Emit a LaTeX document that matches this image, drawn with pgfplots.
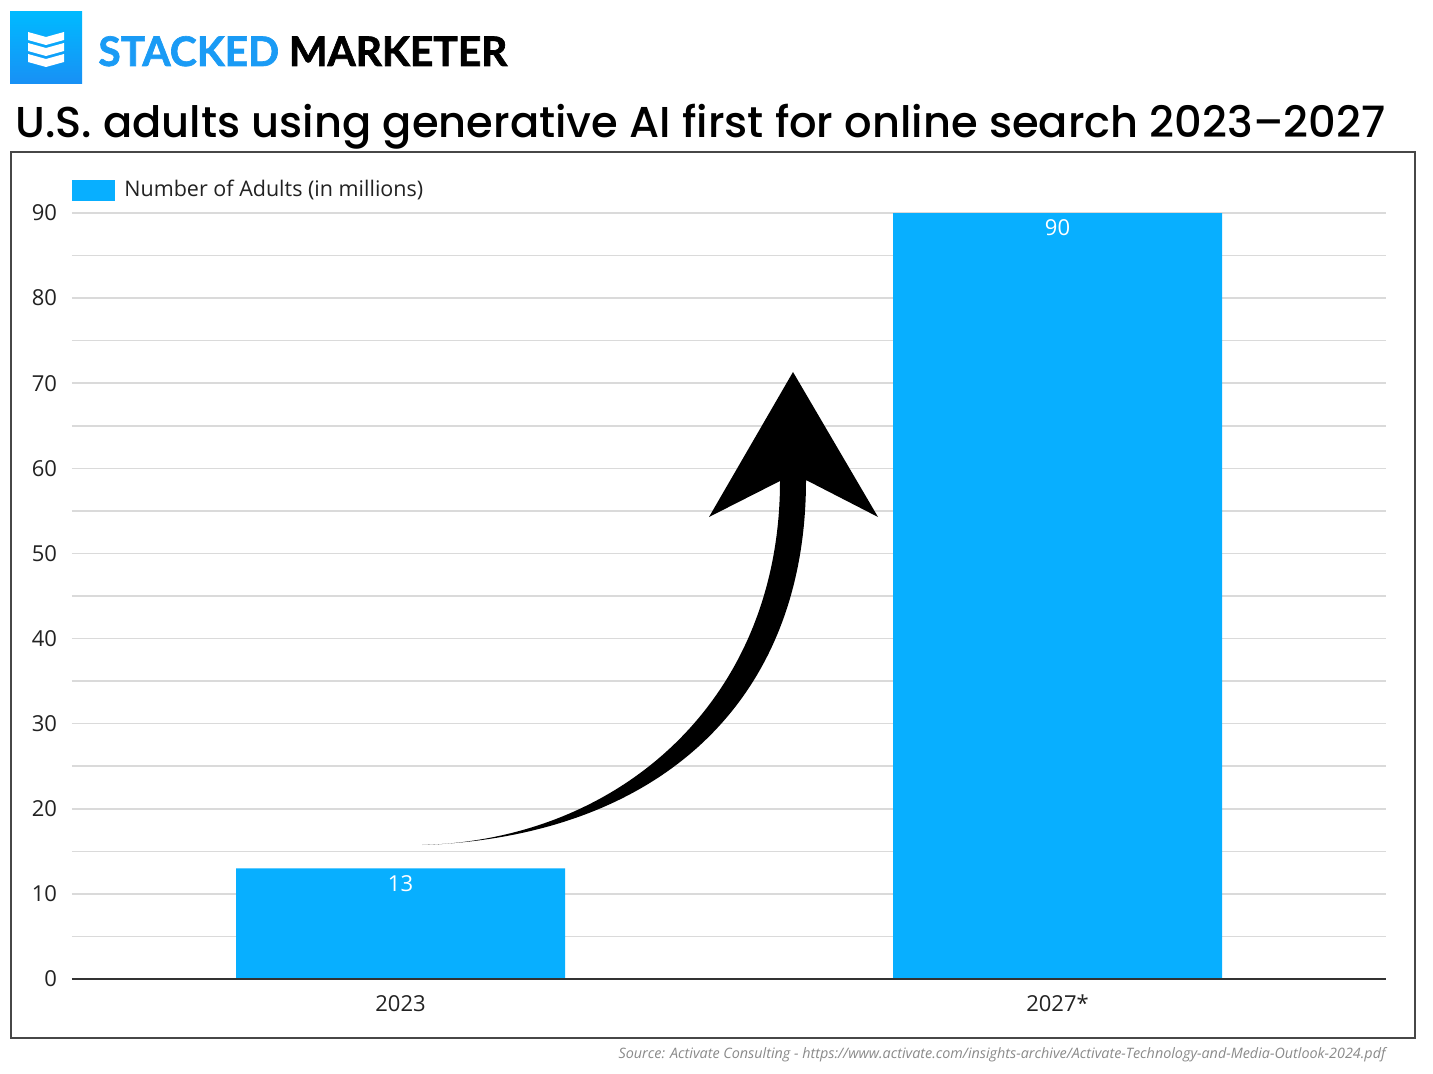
\documentclass[border=0pt]{standalone}
\usepackage{fontspec}
\setmainfont{Open Sans}
\newfontfamily\titlefont{Poppins}[UprightFont={* Medium}]
\newfontfamily\logofont{Lato}[BoldFeatures={FakeBold=1.6}]
\usepackage{pgfplots}
\pgfplotsset{compat=1.18}
\definecolor{barblue}{HTML}{08AFFF}
\definecolor{gridgray}{HTML}{DADADA}
\definecolor{txt}{HTML}{222222}
\definecolor{srcgray}{HTML}{8A8A8A}
\definecolor{logoblue}{HTML}{1A9BF5}
\begin{document}
\begin{tikzpicture}
\begin{scope}[x=0.5pt,y=-0.5pt]
  \path[use as bounding box] (0,0) rectangle (1433,1074);
  \fill[white] (0,0) rectangle (1433,1074);
  \draw[black!72, line width=1pt] (11,152) rectangle (1415,1038);
  % logo
  \shade[top color={rgb,255:red,0;green,186;blue,255}, bottom color={rgb,255:red,24;green,144;blue,245}] (10,12) rectangle (82,84);
  \foreach \y in {32,43,54}
    \fill[white] (28,\y) -- (46,\y+5) -- (64,\y) -- (64,\y+8) -- (46,\y+13) -- (28,\y+8) -- cycle;
  \node[anchor=base west, inner sep=0] at (98,66)
    {\resizebox{204.5pt}{!}{\logofont\bfseries\textcolor{logoblue}{STACKED} MARKETER}};
  % title
  \node[anchor=base west, inner sep=0] at (15,138)
    {\resizebox{685pt}{!}{\titlefont U.S. adults using generative AI first for online search 2023–2027}};
  % source
  \node[anchor=base east, inner sep=0, text=srcgray] at (1386,1058)
    {\resizebox{383.5pt}{!}{\itshape Source: Activate Consulting - https://www.activate.com/insights-archive/Activate-Technology-and-Media-Outlook-2024.pdf}};
\end{scope}

\begin{axis}[
    at={(36pt,-489.5pt)}, anchor=south west,
    scale only axis, width=657pt, height=383pt,
    ybar, bar width=164.5pt,
    xmin=-0.5, xmax=1.5, ymin=0, ymax=90,
    enlargelimits=false,
    xtick=data, xticklabels={2023,2027*},
    ytick={0,10,...,90},
    minor y tick num=1,
    ymajorgrids, yminorgrids,
    major grid style={gridgray, line width=0.75pt},
    minor grid style={gridgray, line width=0.75pt},
    axis line style={draw=none},
    tick style={draw=none},
    /pgf/number format/assume math mode=true,
    tick label style={font=\fontsize{11}{13}\selectfont, text=txt},
    yticklabel style={xshift=-4pt},
    xticklabel style={anchor=center, yshift=-8pt},
    nodes near coords,
    every node near coord/.append style={anchor=center, yshift=-7.5pt, text=white, font=\fontsize{11}{13}\selectfont},
    legend style={at={(0,1)}, anchor=west, yshift=11.5pt, draw=none, fill=none,
      inner sep=0pt, nodes={inner sep=0pt}, font=\fontsize{10.75}{13}\selectfont, text=txt,
      /tikz/every odd column/.append style={column sep=4.5pt}},
    legend cell align=left,
    legend image code/.code={\fill[barblue] (0pt,-5.25pt) rectangle (21.5pt,5.25pt);},
]
\addplot[fill=barblue, draw=none] coordinates {(0,13) (1,90)};
\addlegendentry{Number of Adults (in millions)}
\draw[black!80, line width=0.75pt] (axis cs:-0.5,0) -- (axis cs:1.5,0);
\end{axis}

\begin{scope}[x=0.5pt,y=-0.5pt]
  % growth arrow
  \fill[black] (422,845) .. controls (620,840) and (780,700) .. (780,481)
    -- (709,517) -- (793,372) -- (878,517) -- (806,480)
    .. controls (806,705) and (655,837) .. (422,845) -- cycle;
\end{scope}
\end{tikzpicture}
\end{document}
